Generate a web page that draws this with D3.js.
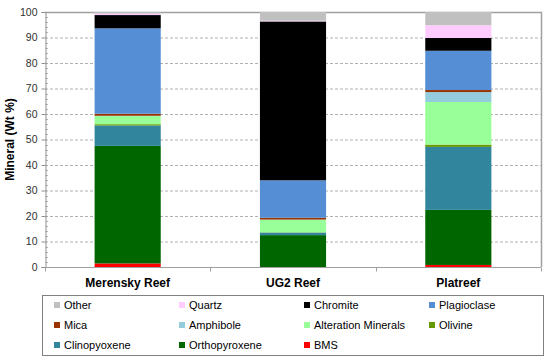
<!DOCTYPE html>
<html>
<head>
<meta charset="utf-8">
<script src="https://cdn.jsdelivr.net/npm/d3@7"></script>
<style>
	body { margin: 0; background: #fff; }
	text { font-family: "Liberation Sans", Arial, sans-serif; }
</style>
</head>
<body>
<div id="vis_container" style="width:550px;height:364px;"></div>
<script>
// categories and minerals (stack order: bottom first)
var reefs = ["Merensky Reef", "UG2 Reef", "Platreef"];
var minerals = ["BMS", "Orthopyroxene", "Clinopyoxene", "Olivine", "Alteration Minerals",
	"Amphibole", "Mica", "Plagioclase", "Chromite", "Quartz", "Other"];
var mineralColors = ["#ff0000", "#006600", "#31859c", "#669900", "#99ff99",
	"#93cddd", "#993300", "#558ed5", "#000000", "#ffccff", "#c0c0c0"];

// wt % per reef, same order as minerals
var merensky = [1.4, 46.1, 8.0, 0.5, 3.2, 0.1, 0.8, 33.5, 5.2, 0.6, 0.6];
var ug2      = [0.0, 12.5, 1.0, 0.1, 4.9, 0.1, 0.7, 14.7, 62.3, 0.3, 3.4];
var platreef = [0.8, 21.6, 24.7, 0.9, 16.7, 3.9, 0.8, 15.4, 5.0, 5.0, 5.2];

var yTicks = [0, 10, 20, 30, 40, 50, 60, 70, 80, 90, 100];

// legend order (rows of four)
var legendOrder = ["Other", "Quartz", "Chromite", "Plagioclase", "Mica", "Amphibole",
	"Alteration Minerals", "Olivine", "Clinopyoxene", "Orthopyroxene", "BMS"];

var chart = {};
chart.width = 550;
chart.height = 364;
chart.margin = {"top": 12, "left": 45, "right": 9, "bottom": 97};

var table = reefs.map(function(r, i) {
	var row = {reef: r};
	var vals = [merensky, ug2, platreef][i];
	minerals.forEach(function(m, j) { row[m] = vals[j]; });
	return row;
});

chart.color = d3.scaleOrdinal().domain(minerals).range(mineralColors);

chart.svg = d3.select("#vis_container").append("svg")
	.attr("width", chart.width)
	.attr("height", chart.height)
	.style("background-color", "#FFFFFF");

var x0 = chart.margin.left, x1 = chart.width - chart.margin.right;
var y0 = chart.height - chart.margin.bottom, y1 = chart.margin.top;

chart.xScale = d3.scaleBand().domain(reefs).range([x0, x1]).paddingInner(0.6).paddingOuter(0.3);
chart.yScale = d3.scaleLinear().domain([0, 100]).range([y0, y1]);

// gridlines
chart.svg.append("g").selectAll("line")
	.data(yTicks.filter(function(t) { return t > 0 && t < 100; }))
	.enter().append("line")
	.attr("x1", x0).attr("x2", x1)
	.attr("y1", function(d) { return chart.yScale(d) + 0.5; })
	.attr("y2", function(d) { return chart.yScale(d) + 0.5; })
	.attr("stroke", "#b0b0b0")
	.attr("stroke-dasharray", "3,2");

// plot border top and right
chart.svg.append("path")
	.attr("d", "M" + x0 + "," + (y1 + 0.5) + "H" + (x1 + 0.5) + "V" + y0)
	.attr("fill", "none")
	.attr("stroke", "#a0a0a0")
	.attr("stroke-width", 1.5);

// stacked bars
var stacked = d3.stack().keys(minerals)(table);
chart.svg.append("g").selectAll("g")
	.data(stacked)
	.enter().append("g")
	.attr("fill", function(d) { return chart.color(d.key); })
	.selectAll("rect")
	.data(function(d) { return d; })
	.enter().append("rect")
	.attr("x", function(d) { return chart.xScale(d.data.reef); })
	.attr("width", chart.xScale.bandwidth())
	.attr("y", function(d) { return chart.yScale(d[1]); })
	.attr("height", function(d) { return chart.yScale(d[0]) - chart.yScale(d[1]); });

// y axis
var yAxis = chart.svg.append("g")
	.attr("transform", "translate(" + (x0 + 0.5) + ",0)")
	.call(d3.axisLeft(chart.yScale).tickValues(yTicks).tickSize(4).tickPadding(4));
yAxis.select(".domain").attr("stroke", "#909090");
yAxis.selectAll(".tick line").attr("stroke", "#909090");
yAxis.selectAll("text").attr("font-size", 10.5).attr("fill", "#303030")
	.style("font-family", "'Liberation Sans', Arial, sans-serif");

// minor ticks inside
chart.svg.append("g").selectAll("line")
	.data(d3.range(0, 101, 2).filter(function(t) { return t % 10 !== 0; }))
	.enter().append("line")
	.attr("x1", x0).attr("x2", x0 + 3)
	.attr("y1", function(d) { return Math.round(chart.yScale(d)) + 0.5; })
	.attr("y2", function(d) { return Math.round(chart.yScale(d)) + 0.5; })
	.attr("stroke", "#b0b0b0");

// x axis
var xAxis = chart.svg.append("g")
	.attr("transform", "translate(0," + (y0 + 0.5) + ")");
xAxis.append("line").attr("x1", x0).attr("x2", x1).attr("stroke", "#a0a0a0");
var step = (x1 - x0) / reefs.length;
xAxis.selectAll(".sep")
	.data(d3.range(reefs.length + 1))
	.enter().append("line")
	.attr("x1", function(i) { return Math.round(x0 + i * step) + 0.5; })
	.attr("x2", function(i) { return Math.round(x0 + i * step) + 0.5; })
	.attr("y1", 0).attr("y2", 4)
	.attr("stroke", "#a0a0a0");
xAxis.selectAll("text")
	.data(reefs)
	.enter().append("text")
	.attr("x", function(d) { return chart.xScale(d) + chart.xScale.bandwidth() / 2; })
	.attr("y", 19)
	.attr("text-anchor", "middle")
	.attr("font-size", 12)
	.attr("font-weight", "bold")
	.attr("fill", "#000")
	.text(function(d) { return d; });

// y title
chart.svg.append("text")
	.attr("transform", "translate(14," + ((y0 + y1) / 2) + ") rotate(-90)")
	.attr("text-anchor", "middle")
	.attr("font-size", 12)
	.attr("font-weight", "bold")
	.text("Mineral (Wt %)");

// legend
var legend = chart.svg.append("g");
legend.append("rect")
	.attr("x", 42.5).attr("y", 295.5)
	.attr("width", 501).attr("height", 60)
	.attr("fill", "#fff")
	.attr("stroke", "#808080");
var items = legend.selectAll(".item")
	.data(legendOrder)
	.enter().append("g")
	.attr("transform", function(d, i) {
		return "translate(" + (54 + (i % 4) * 125) + "," + (305 + Math.floor(i / 4) * 20) + ")";
	});
items.append("rect")
	.attr("x", 0).attr("y", -3)
	.attr("width", 6).attr("height", 6)
	.attr("fill", function(d) { return chart.color(d === "Clinopyroxene" ? "Clinopyoxene" : d); });
items.append("text")
	.attr("x", 10).attr("y", 4)
	.attr("font-size", 11)
	.attr("fill", "#000")
	.text(function(d) { return d; });
</script>
</body>
</html>
